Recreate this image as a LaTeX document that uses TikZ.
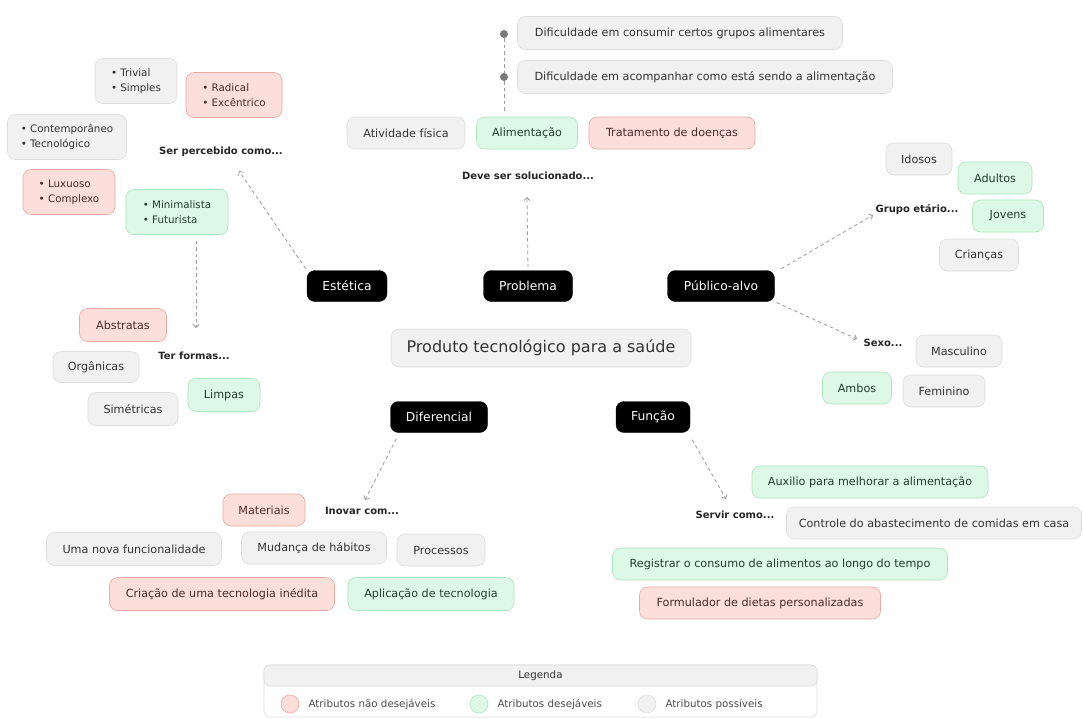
\documentclass[tikz,border=0pt]{standalone}
\usepackage{fontspec}
\setmainfont{DejaVu Sans}
\usetikzlibrary{arrows.meta,calc}
\definecolor{redfill}{HTML}{FCDEDB}
\definecolor{redline}{HTML}{EBA9A2}
\definecolor{redtext}{HTML}{4B2B2B}
\definecolor{greenfill}{HTML}{DDF8E6}
\definecolor{greenline}{HTML}{ABE5BC}
\definecolor{greentext}{HTML}{233D2B}
\definecolor{grayfill}{HTML}{F1F1F1}
\definecolor{grayline}{HTML}{DDDDDD}
\definecolor{graytext}{HTML}{333333}
\definecolor{conncol}{HTML}{9A9A9A}
\definecolor{dotcol}{HTML}{7A7A7A}
\begin{document}
\begin{tikzpicture}[x=1pt,y=-1pt,
  box/.style={rounded corners=8pt, draw, line width=0.6pt, inner sep=0pt,
    minimum height=32pt, align=center, font=\fontsize{11.2}{14}\selectfont},
  blist/.style={align=left, font=\fontsize{10.3}{15}\selectfont},
  redbox/.style={box, fill=redfill, draw=redline, text=redtext},
  greenbox/.style={box, fill=greenfill, draw=greenline, text=greentext},
  graybox/.style={box, fill=grayfill, draw=grayline, text=graytext},
  blackbox/.style={rounded corners=8pt, fill=black, draw=black, text=white,
    inner sep=0pt, minimum height=31pt, font=\fontsize{12.3}{14}\selectfont},
  lbl/.style={font=\bfseries\fontsize{10}{12}\selectfont, text=black!85, inner sep=1pt},
  conn/.style={draw=conncol, line width=0.8pt, dash pattern=on 3.5pt off 3pt,
    -{Straight Barb[length=3pt,width=6pt]}},
  dotline/.style={draw=conncol, line width=0.8pt, dash pattern=on 3.5pt off 3pt},
  dot/.style={circle, fill=dotcol, minimum size=8pt, inner sep=0pt},
  legtxt/.style={font=\fontsize{10.3}{12}\selectfont, text=black!70, inner sep=0pt},
  legdot/.style={circle, minimum size=18pt, inner sep=0pt, line width=0.6pt}
]
\useasboundingbox (0,0) rectangle (1083,718);
\fill[white] (0,0) rectangle (1083,718);

% centre
\node[graybox, minimum width=300pt, minimum height=38pt,
  font=\fontsize{16}{18}\selectfont] (main) at (541,348) {Produto tecnológico para a saúde};

% main topics
\node[blackbox, minimum width=80pt] (est) at (347,286) {Estética};
\node[blackbox, minimum width=89pt] (prob) at (528,286) {Problema};
\node[blackbox, minimum width=107pt] (pub) at (721,286) {Público-alvo};
\node[blackbox, minimum width=97pt] (dif) at (439,417) {Diferencial};
\node[blackbox, minimum width=74pt] (fun) at (653,417) {Função};

% Estetica
\node[lbl] (sp) at (221,152) {Ser percebido como...};
\node[graybox, blist, minimum width=82pt, minimum height=45pt] (triv) at (136,81) {• Trivial\\• Simples};
\node[redbox, blist, minimum width=96pt, minimum height=45pt] (rad) at (234,95) {• Radical\\• Excêntrico};
\node[graybox, blist, minimum width=119pt, minimum height=45pt] (cont) at (67,137) {• Contemporâneo\\• Tecnológico};
\node[redbox, blist, minimum width=92pt, minimum height=45pt] (lux) at (69,192) {• Luxuoso\\• Complexo};
\node[greenbox, blist, minimum width=102pt, minimum height=45pt] (mf) at (177,212) {• Minimalista\\• Futurista};
\coordinate (spTip) at (239,171);
\draw[conn, shorten <=2pt] (est.north west) -- (spTip);

\node[lbl] (tf) at (194,356) {Ter formas...};
\node[redbox, minimum width=87pt, minimum height=33pt] (abs) at (123,325) {Abstratas};
\node[graybox, minimum width=86pt, minimum height=31pt] (org) at (96,367) {Orgânicas};
\node[greenbox, minimum width=72pt, minimum height=33pt] (limp) at (224,395) {Limpas};
\node[graybox, minimum width=90pt, minimum height=33pt] (sim) at (133,409) {Simétricas};
\coordinate (tfTip) at (196,328);
\draw[conn] ($(mf.south)+(19,6)$) -- (tfTip);

% Problema
\node[lbl] (deve) at (528,176) {Deve ser solucionado...};
\node[graybox, minimum width=118pt] (atv) at (406,133) {Atividade física};
\node[greenbox, minimum width=101pt] (alim) at (527,133) {Alimentação};
\node[redbox, minimum width=166pt] (trat) at (672,133) {Tratamento de doenças};
\node[graybox, minimum width=325pt, minimum height=33pt] (dif1) at (680,33) {Dificuldade em consumir certos grupos alimentares};
\node[graybox, minimum width=375pt, minimum height=33pt] (dif2) at (705,77) {Dificuldade em acompanhar como está sendo a alimentação};
\node[dot] (d1) at (504,34) {};
\node[dot] (d2) at (504,77) {};
\draw[dotline] (d1) -- (d2);
\draw[dotline, shorten >=4pt] (d2) -- (d2 |- alim.north);
\coordinate (deveTip) at (527,197);
\draw[conn, shorten <=3pt] (prob.north) -- (deveTip);

% Publico-alvo
\node[lbl] (ge) at (917,210) {Grupo etário...};
\node[graybox, minimum width=66pt] (ido) at (919,159) {Idosos};
\node[greenbox, minimum width=74pt] (adu) at (995,178) {Adultos};
\node[greenbox, minimum width=71pt] (jov) at (1008,216) {Jovens};
\node[graybox, minimum width=79pt] (cri) at (979,255) {Crianças};
\coordinate (geTip) at (873,215);
\draw[conn, shorten <=3pt] ($(pub.north east)+(4,0)$) -- (geTip);

\node[lbl] (sexo) at (883,343) {Sexo...};
\node[graybox, minimum width=86pt] (masc) at (959,351) {Masculino};
\node[greenbox, minimum width=69pt] (amb) at (857,388) {Ambos};
\node[graybox, minimum width=82pt] (fem) at (944,391) {Feminino};
\coordinate (sexoTip) at (857,339);
\draw[conn, shorten <=2pt] (pub.south east) -- (sexoTip);

% Diferencial
\node[lbl] (inov) at (362,511) {Inovar com...};
\node[redbox, minimum width=82pt] (mat) at (264,510) {Materiais};
\node[graybox, minimum width=175pt, minimum height=33pt] (uma) at (134,549) {Uma nova funcionalidade};
\node[graybox, minimum width=145pt] (mud) at (314,548) {Mudança de hábitos};
\node[graybox, minimum width=88pt] (proc) at (441,550) {Processos};
\node[redbox, minimum width=225pt, minimum height=33pt] (crit) at (222,594) {Criação de uma tecnologia inédita};
\node[greenbox, minimum width=166pt, minimum height=33pt] (apl) at (431,594) {Aplicação de tecnologia};
\coordinate (inovTip) at (365,500);
\draw[conn] ($(dif.south west)+(6,6)$) -- (inovTip);

% Funcao
\node[lbl] (serv) at (735,515) {Servir como...};
\node[greenbox, minimum width=236pt] (aux) at (870,482) {Auxilio para melhorar a alimentação};
\node[graybox, minimum width=295pt] (ctrl) at (934,523) {Controle do abastecimento de comidas em casa};
\node[greenbox, minimum width=335pt] (reg) at (780,564) {Registrar o consumo de alimentos ao longo do tempo};
\node[redbox, minimum width=241pt] (form) at (760,603) {Formulador de dietas personalizadas};
\coordinate (servTip) at (726,499);
\draw[conn] ($(fun.south east)+(2,7)$) -- (servTip);

% Legend
\node[draw=grayline, fill=white, rounded corners=6pt, minimum width=553pt,
  minimum height=52pt, inner sep=0pt, line width=0.6pt] (leg) at (540.5,691) {};
\node[draw=grayline, fill=grayfill, rounded corners=6pt, minimum width=553pt,
  minimum height=21pt, inner sep=0pt, line width=0.6pt, legtxt, text=black!80] (leghead) at (540.5,675.5) {Legenda};
\node[legdot, fill=redfill, draw=redline] (lr) at (290,704) {};
\node[legtxt, anchor=west] (lrt) at ($(lr.east)+(9,0)$) {Atributos não desejáveis};
\node[legdot, fill=greenfill, draw=greenline] (lg) at (479,704) {};
\node[legtxt, anchor=west] (lgt) at ($(lg.east)+(9,0)$) {Atributos desejáveis};
\node[legdot, fill=grayfill, draw=grayline] (lgr) at (647,704) {};
\node[legtxt, anchor=west] (lgrt) at ($(lgr.east)+(9,0)$) {Atributos possíveis};
\end{tikzpicture}
\end{document}
